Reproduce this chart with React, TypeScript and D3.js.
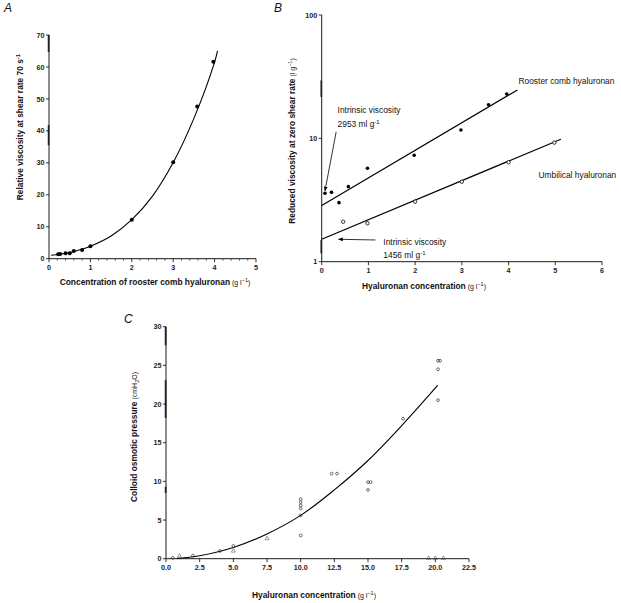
import React from "react";
import * as d3 from "d3";

// ---------- Panel A data ----------
const aX = [0.22, 0.27, 0.4, 0.5, 0.6, 0.8, 1.0, 2.0, 3.0, 3.58, 3.97];
const aY = [1.4, 1.45, 1.7, 1.7, 2.4, 2.7, 3.9, 12.2, 30.2, 47.6, 61.6];
const aCurveX = [0.05, 0.25, 0.5, 0.75, 1, 1.5, 2, 2.5, 3, 3.5, 4, 4.07];
const aCurveY = [1.1, 1.4, 1.9, 2.8, 3.9, 7.1, 12.2, 19.6, 30.1, 43.9, 61.5, 65];
const aXTicks = [0, 1, 2, 3, 4, 5];
const aYTicks = [0, 10, 20, 30, 40, 50, 60, 70];

// ---------- Panel B data ----------
const bRoosterX = [0.07, 0.21, 0.37, 0.57, 0.98, 1.98, 2.98, 3.57, 3.96];
const bRoosterY = [3.59, 3.65, 3.01, 4.06, 5.72, 7.29, 11.7, 18.7, 22.9];
const bUmbX = [0.46, 0.98, 2.0, 3.0, 4.0, 4.98];
const bUmbY = [2.11, 2.05, 3.07, 4.45, 6.4, 9.23];
const bRoosterLineX = [0, 4.19];
const bRoosterLineY = [2.85, 24.7];
const bUmbLineX = [0, 5.12];
const bUmbLineY = [1.52, 9.84];
const bXTicks = [0, 1, 2, 3, 4, 5, 6];
const bYTicks = [1, 10, 100];

// ---------- Panel C data ----------
const cCircX = [0.5, 2.0, 4.0, 5.0, 10, 10, 10, 10, 10, 10, 12.3, 12.7, 15, 15, 15.2, 17.6, 20.2, 20.2, 20.2, 20.35];
const cCircY = [0.1, 0.4, 1.0, 1.65, 3.0, 5.6, 6.5, 6.9, 7.3, 7.7, 11.0, 11.0, 8.9, 9.9, 9.9, 18.1, 20.5, 24.5, 25.6, 25.6];
const cTriX = [1.0, 5.0, 7.5, 19.5, 20.0, 20.6];
const cTriY = [0.35, 1.0, 2.6, 0.05, 0.05, 0.05];
const cCurveX = [0.8, 1.5, 2.5, 5, 7.5, 10, 12.5, 15, 17.5, 20.17];
const cCurveY = [0.03, 0.15, 0.38, 1.45, 3.2, 5.6, 8.9, 12.7, 17.2, 22.4];
const cXTicks = [0, 2.5, 5, 7.5, 10, 12.5, 15, 17.5, 20, 22.5];
const cYTicks = [0, 5, 10, 15, 20, 25, 30];

const FONT = "'Liberation Sans', Arial, Helvetica, sans-serif";
const TICK_FS = 7.2;
const TITLE_FS = 8.4;

const xA = d3.scaleLinear().domain([0, 5]).range([49, 256]);
const yA = d3.scaleLinear().domain([0, 70]).range([258.7, 35]);
const xB = d3.scaleLinear().domain([0, 6]).range([321.7, 602]);
const yB = d3.scaleLog().domain([1, 100]).range([261.7, 15]);
const xC = d3.scaleLinear().domain([0, 22.5]).range([166, 469]);
const yC = d3.scaleLinear().domain([0, 30]).range([558.7, 326.7]);

function pairs(xs: number[], ys: number[]) {
  return xs.map((x, i) => [x, ys[i]] as [number, number]);
}

function YAxis({ scale, x, ticks, fmt, thick }: any) {
  const [r0, r1] = scale.range();
  return (
    <g>
      <line x1={x} x2={x} y1={r0} y2={r1} stroke="#000" strokeWidth={0.9} />
      {thick.map((t: number[], i: number) => (
        <line key={"t" + i} x1={x - 0.4} x2={x - 0.4} y1={scale(t[0])} y2={scale(t[1])} stroke="#222" strokeWidth={1.7} />
      ))}
      {ticks.map((t: number) => (
        <g key={t}>
          <line x1={x - 3} x2={x} y1={scale(t)} y2={scale(t)} stroke="#000" strokeWidth={0.8} />
          <text x={x - 4.5} y={scale(t) + 2.6} textAnchor="end" fontSize={TICK_FS} fontWeight="bold" fill="#222">
            {fmt(t)}
          </text>
        </g>
      ))}
    </g>
  );
}

function XAxis({ scale, y, ticks, minor, fmt }: any) {
  const [r0, r1] = scale.range();
  return (
    <g>
      <line x1={r0} x2={r1} y1={y} y2={y} stroke="#000" strokeWidth={0.9} />
      {minor.map((t: number) => (
        <line key={"m" + t} x1={scale(t)} x2={scale(t)} y1={y} y2={y + 2} stroke="#000" strokeWidth={0.6} />
      ))}
      {ticks.map((t: number) => (
        <g key={t}>
          <line x1={scale(t)} x2={scale(t)} y1={y} y2={y + 3.5} stroke="#000" strokeWidth={0.8} />
          <text x={scale(t)} y={y + 11} textAnchor="middle" fontSize={TICK_FS} fontWeight="bold" fill="#222">
            {fmt(t)}
          </text>
        </g>
      ))}
    </g>
  );
}

export default function App() {
  const lineA = d3.line<[number, number]>().x((d) => xA(d[0])).y((d) => yA(d[1])).curve(d3.curveCatmullRom);
  const lineB = d3.line<[number, number]>().x((d) => xB(d[0])).y((d) => yB(d[1]));
  const lineC = d3.line<[number, number]>().x((d) => xC(d[0])).y((d) => yC(d[1])).curve(d3.curveCatmullRom);

  const aMinor = d3.range(0, 5.001, 0.2).map((v) => +v.toFixed(2)).filter((v) => Math.abs(v - Math.round(v)) > 0.01);
  const triangle = d3.symbol().type(d3.symbolTriangle).size(7)() as string;

  return (
    <svg width={621} height={603} style={{ position: "absolute", left: 0, top: 0, background: "#fff" }} fontFamily={FONT}>
      <defs>
        <marker id="ah" viewBox="0 0 10 10" refX="9" refY="5" markerWidth="6" markerHeight="6" orient="auto-start-reverse">
          <path d="M0,1 L10,5 L0,9 z" fill="#000" />
        </marker>
      </defs>
      <rect x={0} y={0} width={621} height={603} fill="#fff" />

      {/* ---------------- Panel A ---------------- */}
      <text x={4} y={12} fontSize={12} fontStyle="italic" fill="#111">A</text>
      <YAxis scale={yA} x={xA(0)} ticks={aYTicks} fmt={(t: number) => String(t)} thick={[[64.7, 70], [35.5, 41.8]]} />
      <XAxis scale={xA} y={yA(0)} ticks={aXTicks} minor={aMinor} fmt={(t: number) => String(t)} />
      <path d={lineA(pairs(aCurveX, aCurveY)) || ""} fill="none" stroke="#000" strokeWidth={1.1} />
      {aX.map((x, i) => (
        <circle key={i} cx={xA(x)} cy={yA(aY[i])} r={2} fill="#000" />
      ))}
      <text transform="translate(23,127) rotate(-90)" textAnchor="middle" fontSize={TITLE_FS} fontWeight="bold" fill="#111">
        Relative viscosity at shear rate 70 s<tspan dy={-3} fontSize={6}>-1</tspan>
      </text>
      <text x={155} y={285} textAnchor="middle" fontSize={TITLE_FS} fill="#111">
        <tspan fontWeight="bold">Concentration of rooster comb hyaluronan</tspan>
        <tspan fontSize={7}> (g l</tspan>
        <tspan fontSize={5.5} dy={-3}>−1</tspan>
        <tspan fontSize={7} dy={3}>)</tspan>
      </text>

      {/* ---------------- Panel B ---------------- */}
      <text x={274} y={12} fontSize={12} fontStyle="italic" fill="#111">B</text>
      <YAxis scale={yB} x={xB(0)} ticks={bYTicks} fmt={(t: number) => String(t)} thick={[[21.7, 29.5], [1.17, 1.5]]} />
      <XAxis scale={xB} y={yB(1)} ticks={bXTicks} minor={[]} fmt={(t: number) => String(t)} />
      <path d={lineB(pairs(bRoosterLineX, bRoosterLineY)) || ""} fill="none" stroke="#000" strokeWidth={1.2} />
      <path d={lineB(pairs(bUmbLineX, bUmbLineY)) || ""} fill="none" stroke="#000" strokeWidth={1.2} />
      {bRoosterX.map((x, i) => (
        <circle key={"r" + i} cx={xB(x)} cy={yB(bRoosterY[i])} r={1.8} fill="#000" />
      ))}
      {bUmbX.map((x, i) => (
        <circle key={"u" + i} cx={xB(x)} cy={yB(bUmbY[i])} r={1.7} fill="#fff" stroke="#000" strokeWidth={0.8} />
      ))}
      <line x1={xB(0.31)} y1={yB(11.3)} x2={xB(0.07)} y2={yB(3.75)} stroke="#000" strokeWidth={0.8} markerEnd="url(#ah)" />
      <line x1={xB(1.15)} y1={yB(1.5)} x2={xB(0.36)} y2={yB(1.52)} stroke="#000" strokeWidth={0.8} markerEnd="url(#ah)" />
      <g fontSize={8.4} fill="#111">
        <text x={xB(0.34)} y={113}>Intrinsic viscosity</text>
        <text x={xB(0.34)} y={126.5}>
          2953 ml g<tspan dy={-3} fontSize={6}>-1</tspan>
        </text>
        <text x={xB(1.32)} y={245}>Intrinsic viscosity</text>
        <text x={xB(1.32)} y={258}>
          1456 ml g<tspan dy={-3} fontSize={6}>-1</tspan>
        </text>
        <text x={518.5} y={84}>Rooster comb hyaluronan</text>
        <text x={538.5} y={177.5}>Umbilical hyaluronan</text>
      </g>
      <text transform="translate(295,141) rotate(-90)" textAnchor="middle" fontSize={TITLE_FS} fill="#111">
        <tspan fontWeight="bold">Reduced viscosity at zero shear rate</tspan>
        <tspan fontSize={7}> (l g</tspan>
        <tspan fontSize={5.5} dy={-3}>−1</tspan>
        <tspan fontSize={7} dy={3}>)</tspan>
      </text>
      <text x={424} y={289} textAnchor="middle" fontSize={TITLE_FS} fill="#111">
        <tspan fontWeight="bold">Hyaluronan concentration</tspan>
        <tspan fontSize={7}> (g l</tspan>
        <tspan fontSize={5.5} dy={-3}>−1</tspan>
        <tspan fontSize={7} dy={3}>)</tspan>
      </text>

      {/* ---------------- Panel C ---------------- */}
      <text x={124} y={323} fontSize={12} fontStyle="italic" fill="#111">C</text>
      <YAxis scale={yC} x={xC(0)} ticks={cYTicks} fmt={(t: number) => String(t)} thick={[[27.6, 30], [18.2, 23.1], [8.5, 9.3]]} />
      <XAxis scale={xC} y={yC(0)} ticks={cXTicks} minor={[]} fmt={(t: number) => t.toFixed(1)} />
      <path d={lineC(pairs(cCurveX, cCurveY)) || ""} fill="none" stroke="#000" strokeWidth={1.1} />
      {cCircX.map((x, i) => (
        <circle key={"c" + i} cx={xC(x)} cy={yC(cCircY[i])} r={1.4} fill="none" stroke="#333" strokeWidth={0.7} />
      ))}
      {cTriX.map((x, i) => (
        <path key={"t" + i} d={triangle} transform={`translate(${xC(x)},${yC(cTriY[i])})`} fill="none" stroke="#555" strokeWidth={0.6} />
      ))}
      <text transform="translate(137,437) rotate(-90)" textAnchor="middle" fontSize={TITLE_FS} fill="#111">
        <tspan fontWeight="bold">Colloid osmotic pressure</tspan>
        <tspan fontSize={7}> (cmH</tspan>
        <tspan fontSize={5.5} dy={2}>2</tspan>
        <tspan fontSize={7} dy={-2}>O)</tspan>
      </text>
      <text x={314} y={598} textAnchor="middle" fontSize={TITLE_FS} fill="#111">
        <tspan fontWeight="bold">Hyaluronan concentration</tspan>
        <tspan fontSize={7}> (g l</tspan>
        <tspan fontSize={5.5} dy={-3}>−1</tspan>
        <tspan fontSize={7} dy={3}>)</tspan>
      </text>
    </svg>
  );
}
